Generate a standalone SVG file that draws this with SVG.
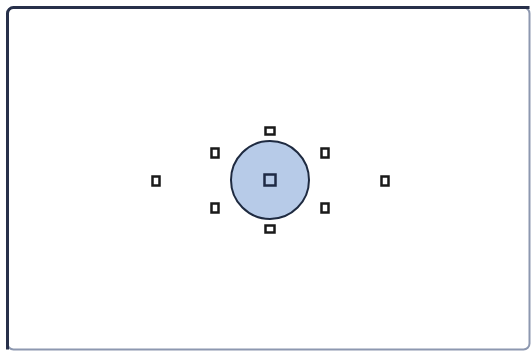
<svg xmlns="http://www.w3.org/2000/svg" width="532" height="352" viewBox="0 0 532 352">
<style>
.pt{fill:#fff;stroke:#1a1a1a;stroke-width:2.5}
</style>
<rect width="532" height="352" fill="#fff"/>
<g id="frame">
<rect x="7.5" y="7.5" width="522" height="342" rx="6" fill="#fff" stroke="#8d98b0" stroke-width="2"/>
<path d="M7.5 349.5 V13.5 A6 6 0 0 1 13.5 7.5 H529.5" fill="none" stroke="#27304a" stroke-width="3"/>
</g>
<g id="spot"><circle cx="270" cy="180" r="39" fill="#b7cbe8" stroke="#1e2a40" stroke-width="2"/></g>
<g id="center"><rect x="264.5" y="174.5" width="11" height="11" fill="none" stroke="#1e2a44" stroke-width="2.5"/></g>
<g id="top"><rect x="265.5" y="127.5" width="9" height="7" class="pt"/></g>
<g id="bottom"><rect x="265.5" y="225.5" width="9" height="7" class="pt"/></g>
<g id="ul"><rect x="211.5" y="148.5" width="7" height="9" class="pt"/></g>
<g id="ur"><rect x="321.5" y="148.5" width="7" height="9" class="pt"/></g>
<g id="ll"><rect x="211.5" y="203.5" width="7" height="9" class="pt"/></g>
<g id="lr"><rect x="321.5" y="203.5" width="7" height="9" class="pt"/></g>
<g id="left"><rect x="152.5" y="176.5" width="7" height="9" class="pt"/></g>
<g id="right"><rect x="381.5" y="176.5" width="7" height="9" class="pt"/></g>
</svg>
